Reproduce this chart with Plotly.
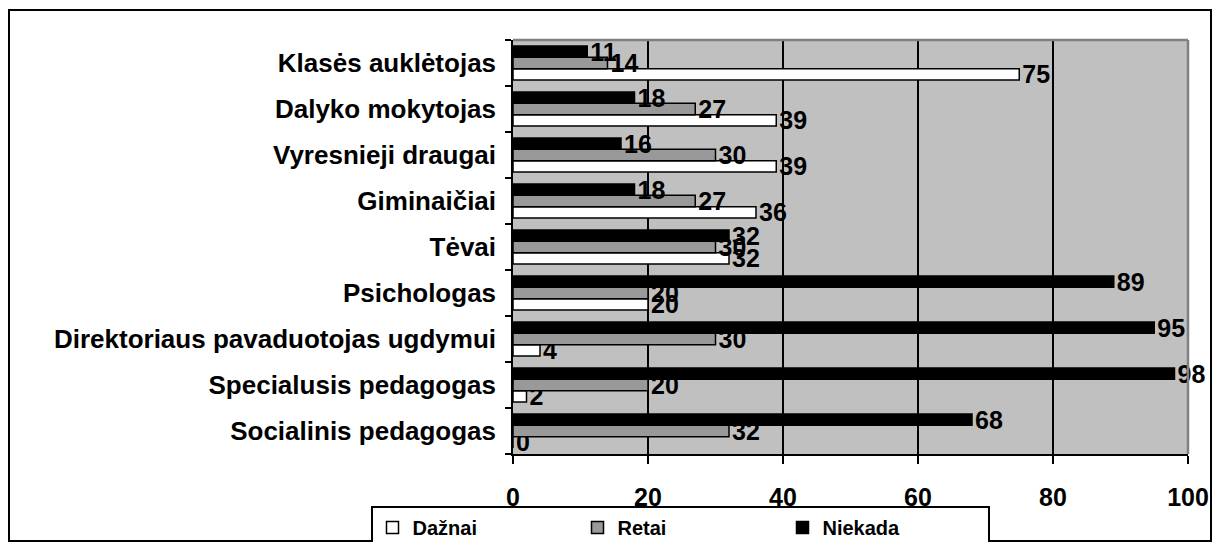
import plotly.graph_objects as go

categories = ["Socialinis pedagogas", "Specialusis pedagogas", "Direktoriaus pavaduotojas ugdymui",
              "Psichologas", "Tėvai", "Giminaičiai", "Vyresnieji draugai", "Dalyko mokytojas",
              "Klasės auklėtojas"]
daznai = [0, 2, 4, 20, 32, 36, 39, 39, 75]
retai = [32, 20, 30, 20, 30, 27, 30, 27, 14]
niekada = [68, 98, 95, 89, 32, 18, 16, 18, 11]
x_ticks = [0, 20, 40, 60, 80, 100]

FONT = "Liberation Sans, Arial, sans-serif"

fig = go.Figure()
series = [("Dažnai", daznai, "#FFFFFF"), ("Retai", retai, "#999999"), ("Niekada", niekada, "#000000")]
for name, vals, col in series:
    fig.add_trace(go.Bar(
        y=categories, x=vals, name=name, orientation="h",
        marker=dict(color=col, line=dict(color="#000000", width=1.5)),
        text=[str(v) for v in vals], textposition="outside", constraintext="none",
        textfont=dict(family=FONT, size=25, color="#000000", weight="bold"),
        cliponaxis=False,
    ))

# page is rendered with an 8px body margin; keep the figure inside the viewport
OFF = 8
W, H = 1220 - 2 * OFF, 550 - 2 * OFF
L, T = 513 - OFF, 40 - OFF
R = (OFF + W) - 1188
B = (OFF + H) - 454
pw, ph = W - L - R, H - T - B

def px(x):
    return (x - OFF - L) / pw

def py(y):
    return (H - B - (y - OFF)) / ph

fig.update_layout(
    width=W, height=H,
    margin=dict(l=L, r=R, t=T, b=B, pad=0, autoexpand=False),
    paper_bgcolor="#FFFFFF", plot_bgcolor="#C0C0C0",
    barmode="group", bargap=0.26, bargroupgap=0,
    font=dict(family=FONT, color="#000000"),
    legend=dict(
        orientation="h", x=px(680), xanchor="center", y=py(506), yanchor="top",
        bordercolor="#000000", borderwidth=2, bgcolor="#FFFFFF",
        font=dict(family=FONT, size=20, color="#000000", weight="bold"),
        entrywidth=160, itemwidth=30, traceorder="normal",
    ),
    xaxis=dict(
        range=[0, 100], tickvals=x_ticks, ticktext=[str(v) for v in x_ticks],
        showgrid=True, gridcolor="#000000", gridwidth=1.5,
        showline=True, linecolor="#000000", linewidth=1.5,
        ticks="outside", ticklen=8, tickwidth=1.5, tickcolor="#000000",
        tickfont=dict(family=FONT, size=25, color="#000000", weight="bold"),
        ticklabelstandoff=12, zeroline=False, fixedrange=True,
    ),
    yaxis=dict(
        type="category", categoryorder="array", categoryarray=categories,
        showline=True, linecolor="#000000", linewidth=1.5,
        ticks="outside", ticklen=6, tickwidth=1.5, tickcolor="#000000",
        tickson="boundaries", showgrid=False,
        tickfont=dict(family=FONT, size=26, color="#000000", weight="bold"),
        ticklabelstandoff=10, fixedrange=True,
    ),
    showlegend=True,
)

# grey plot-area border on top and right
fig.add_shape(type="line", xref="paper", yref="paper", x0=1, x1=1, y0=0, y1=1,
              line=dict(color="#808080", width=2.5), layer="above")
fig.add_shape(type="line", xref="paper", yref="paper", x0=0, x1=1, y0=1, y1=1,
              line=dict(color="#808080", width=2.5), layer="above")
# outer chart border
fig.add_shape(type="rect", xref="paper", yref="paper",
              x0=px(9), x1=px(1211), y0=py(541), y1=py(10),
              line=dict(color="#000000", width=2), fillcolor="rgba(0,0,0,0)", layer="above")

fig.write_html("out.html")
